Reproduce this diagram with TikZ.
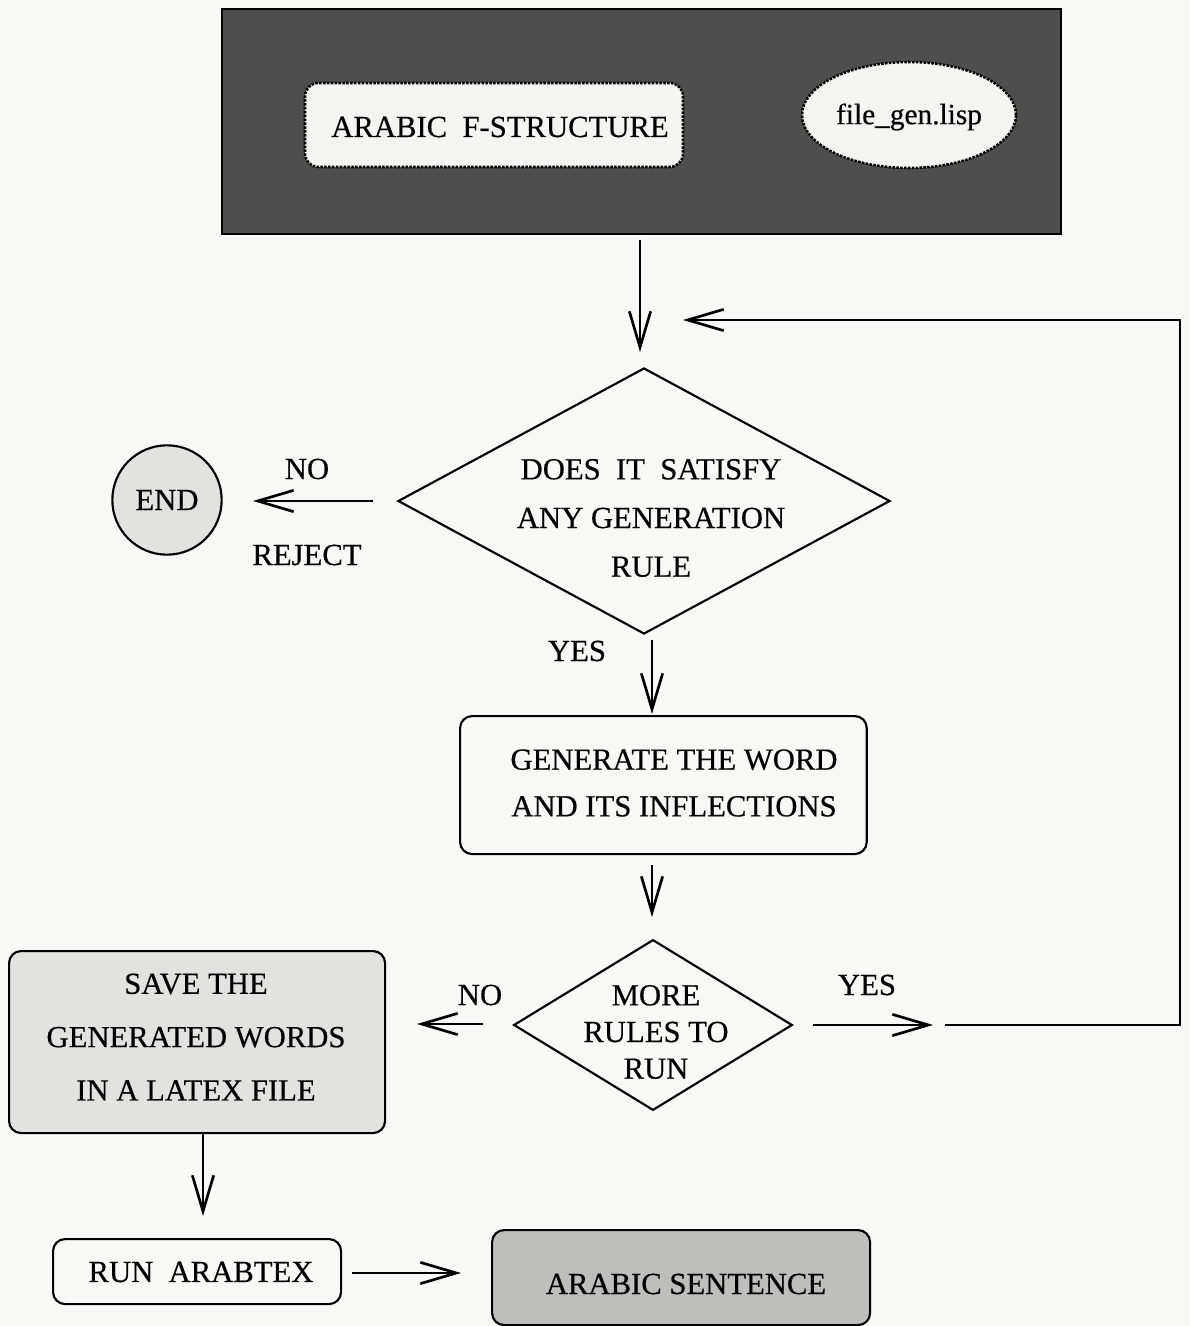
\documentclass[tikz,border=0pt]{standalone}
\usepackage{fontspec}
\setmainfont{Liberation Serif}
\newfontfamily\labelfont{Liberation Serif}[FakeBold=0.5]
\usetikzlibrary{shapes.geometric,arrows.meta}
\definecolor{paper}{HTML}{F8F8F6}
\definecolor{darkpanel}{HTML}{4E4E4E}
\definecolor{palebox}{HTML}{F4F4F2}
\definecolor{lightbox}{HTML}{E2E2E0}
\definecolor{midbox}{HTML}{BEBEBC}
\begin{document}
\begin{tikzpicture}[x=0.75pt,y=-0.75pt,
  every node/.style={font=\labelfont\fontsize{23}{36}\selectfont, inner sep=0pt, align=center},
  flow/.style={line width=2pt, -{Straight Barb[length=27pt,width=16pt,line width=2pt]}},
  boxbase/.style={draw, line width=1.6pt, rounded corners=9pt}]
  % page
  \fill[paper] (0,0) rectangle (1190,1326);
  \useasboundingbox (0,0) rectangle (1190,1326);

  % input panel
  \node[draw, line width=1.6pt, fill=darkpanel, minimum width=629pt, minimum height=168.75pt, anchor=north west] (panel) at (221,8) {};
  \node[draw, densely dotted, line width=1.9pt, fill=palebox, rounded corners=10pt,
        minimum width=283.5pt, minimum height=63pt] (fs) at (494,125) {};
  \node (fst) at (500,127) {ARABIC\ \ F-STRUCTURE};
  \node[ellipse, draw, densely dotted, line width=1.9pt, fill=palebox,
        minimum width=160.5pt, minimum height=79.5pt] (lisp) at (909,115) {};
  \node[font=\labelfont\fontsize{22}{36}\selectfont] (lispt) at (909,117) {file\_gen.lisp};

  % first test
  \node[diamond, draw, line width=1.6pt, minimum width=369pt, minimum height=199.5pt] (d1) at (644,501) {};
  \node[font=\labelfont\fontsize{23}{36.5}\selectfont] (d1t) at (651,518) {DOES\ \ IT\ \ SATISFY\\ANY GENERATION\\RULE};

  % reject branch
  \node[circle, draw, line width=1.6pt, fill=lightbox, minimum size=82pt] (end) at (167,500) {};
  \node (endt) at (167,500) {END};
  \node (no1) at (307,469) {NO};
  \node (rej) at (307,555) {REJECT};
  \node (yes1) at (577,651) {YES};

  % generation step
  \node[boxbase, minimum width=305pt, minimum height=103.5pt, anchor=north west] (gen) at (459,715) {};
  \node[font=\labelfont\fontsize{23}{35}\selectfont] (gent) at (674,783) {GENERATE THE WORD\\AND ITS INFLECTIONS};

  % second test
  \node[diamond, draw, line width=1.6pt, minimum width=209pt, minimum height=128pt] (d2) at (653,1025) {};
  \node[font=\labelfont\fontsize{23}{27.5}\selectfont] (d2t) at (656,1032) {MORE\\RULES TO\\RUN};
  \node (no2) at (480,995) {NO};
  \node (yes2) at (867,985) {YES};

  % output steps
  \node[boxbase, fill=lightbox, minimum width=282pt, minimum height=136.5pt, anchor=north west] (save) at (8,950) {};
  \node[font=\labelfont\fontsize{23}{40}\selectfont] (savet) at (196,1037) {SAVE THE\\GENERATED WORDS\\IN A LATEX FILE};
  \node[boxbase, minimum width=216pt, minimum height=48.75pt, anchor=north west] (run) at (52,1238) {};
  \node (runt) at (201,1272) {RUN\ \ ARABTEX};
  \node[boxbase, fill=midbox, minimum width=283.5pt, minimum height=71.25pt, anchor=north west] (sent) at (491,1229) {};
  \node (sentt) at (686,1284) {ARABIC SENTENCE};

  % connector end points
  \coordinate (a1s) at (640,240);
  \coordinate (a1e) at (640,352);
  \coordinate (r1s) at (373,501);
  \coordinate (r1e) at (253,501);
  \coordinate (y1s) at (652,640);
  \coordinate (y1e) at (652,714);
  \coordinate (g1s) at (652,865);
  \coordinate (g1e) at (652,917);
  \coordinate (n2s) at (483,1024);
  \coordinate (n2e) at (417,1024);
  \coordinate (y2s) at (813,1025);
  \coordinate (y2e) at (933,1025);
  \coordinate (lp1) at (945,1025);
  \coordinate (lp2) at (1180,1025);
  \coordinate (lp3) at (1180,320);
  \coordinate (lpe) at (683,320);
  \coordinate (s1s) at (203,1133);
  \coordinate (s1e) at (203,1216);
  \coordinate (t1s) at (352,1273);
  \coordinate (t1e) at (461,1273);

  % connectors
  \draw[flow] (a1s) -- (a1e);
  \draw[flow] (r1s) -- (r1e);
  \draw[flow] (y1s) -- (y1e);
  \draw[flow] (g1s) -- (g1e);
  \draw[flow] (n2s) -- (n2e);
  \draw[flow] (y2s) -- (y2e);
  \draw[flow, line join=miter] (lp1) -- (lp2) -- (lp3) -- (lpe);
  \draw[flow] (s1s) -- (s1e);
  \draw[flow] (t1s) -- (t1e);
\end{tikzpicture}
\end{document}
